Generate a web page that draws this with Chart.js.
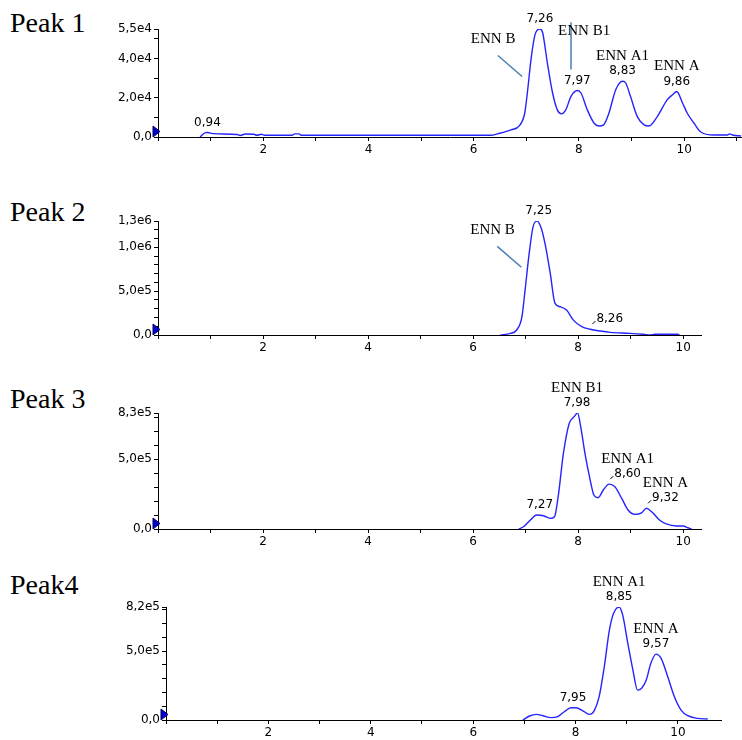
<!DOCTYPE html>
<html>
<head>
<meta charset="utf-8">
<script src="https://cdn.jsdelivr.net/npm/chart.js@4.4.0/dist/chart.umd.min.js"></script>
<style>
body { margin: 0; background: #fff; width: 742px; height: 740px; position: relative; overflow: hidden; }
canvas { position: absolute; left: 0; }
.peak { position: absolute; left: 10px; font: 28px/28px "Liberation Serif", "Times New Roman", serif; color: #000; }
</style>
</head>
<body>
<div class="peak" style="top:9px">Peak 1</div>
<div class="peak" style="top:198px">Peak 2</div>
<div class="peak" style="top:385px">Peak 3</div>
<div class="peak" style="top:571px">Peak4</div>
<canvas id="c1" width="742" height="165" style="top:0px"></canvas>
<canvas id="c2" width="742" height="175" style="top:185px"></canvas>
<canvas id="c3" width="742" height="185" style="top:370px"></canvas>
<canvas id="c4" width="742" height="180" style="top:560px"></canvas>
<script>
// Peak 1 chromatogram (retention time, min / intensity)
const p1Time = [0.80, 0.90, 0.94, 1.06, 1.50, 1.56, 1.66, 1.82, 1.88, 1.97, 2.02, 2.55, 2.60, 2.68, 2.72, 4.00, 6.33, 6.45, 6.71, 6.87, 6.97, 7.02, 7.09, 7.16, 7.26, 7.31, 7.40, 7.50, 7.59, 7.67, 7.75, 7.85, 7.97, 8.04, 8.16, 8.29, 8.38, 8.47, 8.57, 8.70, 8.83, 8.89, 8.98, 9.11, 9.24, 9.33, 9.49, 9.68, 9.78, 9.86, 9.97, 10.06, 10.19, 10.31, 10.57, 10.82, 10.87, 10.92, 11.08];
const p1Signal = [0, 2200, 2300, 1700, 1300, 800, 1500, 1400, 900, 1400, 900, 900, 1600, 1600, 900, 900, 900, 1600, 3600, 5800, 12100, 22400, 39500, 51500, 55000, 53200, 37800, 22400, 13800, 11800, 13800, 20700, 23700, 22400, 13800, 7000, 5600, 6200, 12100, 24100, 28400, 27500, 20700, 10400, 6200, 5600, 10400, 19000, 21500, 23200, 17300, 12100, 7000, 2700, 1000, 1000, 1600, 1000, 500];
const p1PeakTime = [0.94, 7.26, 7.97, 8.83, 9.86];
const p1PeakHeight = [2300, 55000, 23700, 28400, 23200];
const p1PeakName = ['', '', '', 'ENN A1', 'ENN A'];
const p1YTicks = [0, 20000, 40000, 55000];

// Peak 2
const p2Time = [6.52, 6.71, 6.83, 6.93, 6.99, 7.06, 7.14, 7.22, 7.29, 7.37, 7.47, 7.56, 7.66, 7.78, 7.91, 8.07, 8.23, 8.42, 8.61, 8.99, 9.24, 9.37, 9.46, 9.90, 9.93];
const p2Signal = [0, 19000, 57000, 208000, 511000, 890000, 1231000, 1300000, 1231000, 1042000, 701000, 360000, 322000, 284000, 170000, 95000, 65000, 45000, 30000, 19000, 8000, 0, 8000, 8000, 0];
const p2PeakTime = [7.25, 8.26];
const p2PeakHeight = [1300000, 68000];
const p2PeakName = ['', ''];
const p2YTicks = [0, 500000, 1000000, 1300000];

// Peak 3
const p3Time = [6.87, 6.96, 7.09, 7.21, 7.34, 7.47, 7.55, 7.62, 7.72, 7.83, 7.92, 7.99, 8.05, 8.13, 8.23, 8.30, 8.38, 8.48, 8.59, 8.70, 8.83, 8.95, 9.08, 9.21, 9.30, 9.40, 9.55, 9.68, 9.87, 10.00, 10.09, 10.16];
const p3Signal = [0, 16000, 64000, 100000, 95000, 76000, 88000, 231000, 541000, 755000, 802000, 830000, 731000, 541000, 350000, 243000, 224000, 279000, 321000, 302000, 219000, 136000, 105000, 116000, 148000, 124000, 64000, 36000, 21000, 21000, 9000, 0];
const p3PeakTime = [7.27, 7.98, 8.60, 9.32];
const p3PeakHeight = [100000, 830000, 321000, 148000];
const p3PeakName = ['', 'ENN B1', 'ENN A1', 'ENN A'];
const p3YTicks = [0, 500000, 830000];

// Peak 4
const p4Time = [6.97, 7.10, 7.23, 7.36, 7.52, 7.65, 7.78, 7.91, 8.01, 8.14, 8.27, 8.37, 8.46, 8.56, 8.66, 8.74, 8.85, 8.92, 9.02, 9.12, 9.21, 9.29, 9.38, 9.47, 9.57, 9.67, 9.80, 9.93, 10.06, 10.19, 10.38, 10.58];
const p4Signal = [0, 29000, 41000, 31000, 17000, 24000, 60000, 89000, 89000, 67000, 41000, 72000, 169000, 386000, 652000, 773000, 820000, 761000, 556000, 362000, 217000, 230000, 290000, 411000, 478000, 447000, 314000, 169000, 72000, 31000, 12000, 7000];
const p4PeakTime = [7.95, 8.85, 9.57];
const p4PeakHeight = [89000, 820000, 478000];
const p4PeakName = ['', 'ENN A1', 'ENN A'];
const p4YTicks = [0, 500000, 820000];

// labels with a leader line: [text x, text y, line x1, y1, x2, y2] in data units
const p1Leaders = [
    { name: 'ENN B', pos: [6.37, 49700, 6.46, 41500, 6.92, 30800] },
    { name: 'ENN B1', pos: [8.10, 53800, 7.85, 58400, 7.85, 34400] }
];
const p2Leaders = [
    { name: 'ENN B', pos: [6.37, 1193000, 6.46, 1011000, 6.92, 773000] }
];

const numFont = '12px "DejaVu Sans", Arial, sans-serif';
const nameFont = '15px "Liberation Serif", "Times New Roman", serif';

function sci(v) {
    if (v === 0) return '0,0';
    const e = Math.floor(Math.log10(v));
    return (v / Math.pow(10, e)).toFixed(1).replace('.', ',') + 'e' + e;
}

const notesPlugin = {
    id: 'notes',
    afterDatasetsDraw(chart, args, opts) {
        const ctx = chart.ctx;
        const xs = chart.scales.x, ys = chart.scales.y;
        const ca = chart.chartArea;
        ctx.save();
        // blue start marker at origin
        ctx.fillStyle = '#0000d0';
        ctx.strokeStyle = '#000060';
        ctx.lineWidth = 1;
        ctx.beginPath();
        ctx.moveTo(ca.left - 5, ca.bottom - 11);
        ctx.lineTo(ca.left + 2, ca.bottom - 5.5);
        ctx.lineTo(ca.left - 5, ca.bottom);
        ctx.closePath();
        ctx.fill();
        ctx.stroke();

        ctx.fillStyle = '#000';
        ctx.textAlign = 'center';
        ctx.textBaseline = 'middle';
        opts.times.forEach((t, i) => {
            const shift = opts.shifted.includes(i) ? 18 : 0;
            const x = xs.getPixelForValue(t) + shift;
            const y = ys.getPixelForValue(opts.heights[i]) - 10;
            const txt = t.toFixed(2).replace('.', ',');
            ctx.font = numFont;
            ctx.fillText(txt, x, y);
            if (shift) {
                const w = ctx.measureText(txt).width;
                ctx.strokeStyle = '#000';
                ctx.beginPath();
                ctx.moveTo(x - w / 2 - 4, y + 5);
                ctx.lineTo(x - w / 2 - 1, y + 2);
                ctx.stroke();
            }
            if (opts.names[i]) {
                ctx.font = nameFont;
                ctx.fillText(opts.names[i], x, y - 15);
            }
        });
        opts.leaders.forEach(l => {
            const p = l.pos;
            ctx.strokeStyle = '#4a7fb0';
            ctx.lineWidth = 1.5;
            ctx.beginPath();
            ctx.moveTo(xs.getPixelForValue(p[2]), ys.getPixelForValue(p[3]));
            ctx.lineTo(xs.getPixelForValue(p[4]), ys.getPixelForValue(p[5]));
            ctx.stroke();
            ctx.font = nameFont;
            ctx.fillStyle = '#000';
            ctx.fillText(l.name, xs.getPixelForValue(p[0]), ys.getPixelForValue(p[1]));
        });
        ctx.restore();
    }
};

function makePanel(id, p) {
    const canvas = document.getElementById(id);
    const top = parseInt(canvas.style.top, 10);
    const data = p.time.map((t, i) => ({ x: t, y: p.signal[i] }));
    new Chart(canvas, {
        type: 'line',
        data: {
            datasets: [{
                data: data,
                borderColor: '#2424ff',
                borderWidth: 1.4,
                pointRadius: 0,
                cubicInterpolationMode: 'monotone',
                fill: false
            }]
        },
        options: {
            responsive: false,
            animation: false,
            events: [],
            layout: { padding: { top: p.areaTop - top, left: 0, right: 742 - p.areaRight, bottom: 0 } },
            plugins: {
                legend: { display: false },
                tooltip: { enabled: false },
                notes: { times: p.peakTime, heights: p.peakHeight, names: p.peakName, shifted: p.shifted, leaders: p.leaders }
            },
            scales: {
                x: {
                    type: 'linear',
                    min: 0,
                    max: p.xMax,
                    border: { display: true, color: '#000', width: 1 },
                    grid: { drawOnChartArea: false, drawTicks: true, tickLength: 4, color: '#000' },
                    ticks: {
                        font: { family: '"DejaVu Sans", Arial, sans-serif', size: 12 },
                        color: '#000',
                        padding: 2,
                        maxRotation: 0,
                        autoSkip: false,
                        callback: v => (v > 0 && v % 2 === 0) ? String(v) : ''
                    },
                    afterBuildTicks: s => {
                        const t = [];
                        for (let v = 0; v <= Math.floor(p.xMax); v++) t.push({ value: v });
                        s.ticks = t;
                    },
                    afterFit: s => { s.height = canvas.height - (p.areaBottom - top); }
                },
                y: {
                    min: 0,
                    max: p.yTicks[p.yTicks.length - 1],
                    border: { display: true, color: '#000', width: 1 },
                    grid: { drawOnChartArea: false, drawTicks: true, tickLength: 4, color: '#000' },
                    ticks: {
                        font: { family: '"DejaVu Sans", Arial, sans-serif', size: 12 },
                        color: '#000',
                        padding: 2,
                        autoSkip: false,
                        callback: v => p.yTicks.includes(v) ? sci(v) : ''
                    },
                    afterBuildTicks: s => {
                        const ymax = p.yTicks[p.yTicks.length - 1];
                        const vals = [];
                        for (let v = 0; v < ymax - 1; v += p.yMinor) vals.push(v);
                        p.yTicks.forEach(v => { if (!vals.includes(v)) vals.push(v); });
                        vals.sort((a, b) => a - b);
                        s.ticks = vals.map(v => ({ value: v }));
                    },
                    afterFit: s => { s.width = p.areaLeft; }
                }
            }
        },
        plugins: [notesPlugin]
    });
}

document.addEventListener('DOMContentLoaded', function() {
    makePanel('c1', { time: p1Time, signal: p1Signal, peakTime: p1PeakTime, peakHeight: p1PeakHeight, peakName: p1PeakName,
        yTicks: p1YTicks, yMinor: 10000, xMax: 11.1, shifted: [], leaders: p1Leaders,
        areaTop: 29, areaBottom: 137, areaLeft: 158, areaRight: 742 });
    makePanel('c2', { time: p2Time, signal: p2Signal, peakTime: p2PeakTime, peakHeight: p2PeakHeight, peakName: p2PeakName,
        yTicks: p2YTicks, yMinor: 100000, xMax: 10.34, shifted: [1], leaders: p2Leaders,
        areaTop: 221, areaBottom: 335, areaLeft: 158, areaRight: 701 });
    makePanel('c3', { time: p3Time, signal: p3Signal, peakTime: p3PeakTime, peakHeight: p3PeakHeight, peakName: p3PeakName,
        yTicks: p3YTicks, yMinor: 100000, xMax: 10.34, shifted: [2, 3], leaders: [],
        areaTop: 413, areaBottom: 529, areaLeft: 158, areaRight: 701 });
    makePanel('c4', { time: p4Time, signal: p4Signal, peakTime: p4PeakTime, peakHeight: p4PeakHeight, peakName: p4PeakName,
        yTicks: p4YTicks, yMinor: 100000, xMax: 10.84, shifted: [], leaders: [],
        areaTop: 607, areaBottom: 720, areaLeft: 166, areaRight: 721 });
});
</script>
</body>
</html>
